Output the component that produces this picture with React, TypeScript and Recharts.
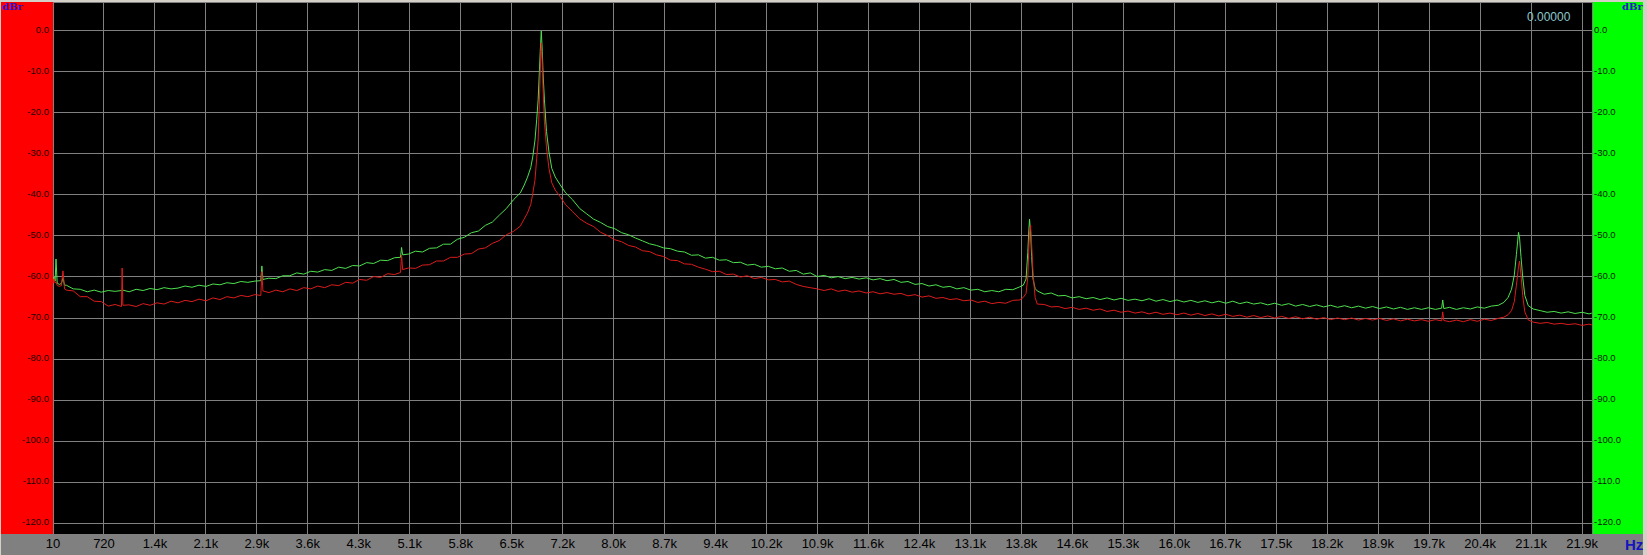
import React from "react";
import { LineChart, Line, XAxis, YAxis, CartesianGrid } from "recharts";

// Frequency bins (Hz)
const freqHz = [
  10, 25, 40, 53, 70, 100, 130, 153, 175, 200,
  300, 400, 500, 600, 700, 800, 900, 990, 1000, 1010,
  1100, 1200, 1300, 1400, 1500, 1600, 1700, 1800, 1900, 2000,
  2100, 2200, 2300, 2400, 2500, 2600, 2700, 2800, 2900, 2985,
  3000, 3015, 3100, 3200, 3300, 3400, 3500, 3600, 3700, 3800,
  3900, 4000, 4100, 4200, 4300, 4400, 4500, 4600, 4700, 4800,
  4900, 4985, 5000, 5015, 5100, 5200, 5300, 5400, 5500, 5600,
  5700, 5800, 5900, 6000, 6100, 6200, 6300, 6400, 6500, 6600,
  6700, 6750, 6800, 6850, 6880, 6910, 6935, 6955, 6972, 6985,
  7000, 7015, 7025, 7045, 7075, 7110, 7150, 7200, 7270, 7350,
  7450, 7550, 7650, 7750, 7850, 7950, 8050, 8150, 8250, 8350,
  8450, 8550, 8650, 8750, 8850, 8950, 9050, 9150, 9250, 9350,
  9450, 9550, 9650, 9750, 9850, 9950, 10050, 10150, 10250, 10350,
  10450, 10550, 10650, 10750, 10850, 10950, 11050, 11150, 11250, 11350,
  11450, 11550, 11650, 11750, 11850, 11950, 12050, 12150, 12250, 12350,
  12450, 12550, 12650, 12750, 12850, 12950, 13050, 13150, 13250, 13350,
  13450, 13550, 13650, 13750, 13850, 13900, 13940, 13965, 13980, 13990,
  14005, 14020, 14040, 14070, 14100, 14200, 14300, 14400, 14500, 14600,
  14700, 14800, 14900, 15000, 15100, 15200, 15300, 15400, 15500, 15600,
  15700, 15800, 15900, 16000, 16100, 16200, 16300, 16400, 16500, 16600,
  16700, 16800, 16900, 17000, 17100, 17200, 17300, 17400, 17500, 17600,
  17700, 17800, 17900, 18000, 18100, 18200, 18300, 18400, 18500, 18600,
  18700, 18800, 18900, 19000, 19100, 19200, 19300, 19400, 19500, 19600,
  19700, 19800, 19890, 19905, 19920, 20000, 20100, 20200, 20300, 20400,
  20500, 20600, 20700, 20780, 20840, 20890, 20930, 20960, 20990, 21005,
  21025, 21050, 21080, 21130, 21200, 21300, 21400, 21500, 21600, 21700,
  21800, 21900, 22000, 22040,
];

// Right channel (green trace), dBr
const greenDb = [
  -60.7, -60.0, -61.0, -55.6, -61.5, -61.8, -61.6, -60.2, -62.0, -62.0,
  -62.9, -63.0, -63.6, -63.2, -63.7, -63.3, -63.5, -63.3, -63.4, -63.2,
  -63.6, -63.0, -63.3, -62.8, -63.1, -62.6, -62.9, -62.7, -62.2, -62.5,
  -62.0, -62.3, -61.7, -61.9, -61.4, -61.6, -61.1, -61.3, -61.0, -60.9,
  -57.3, -60.6, -60.3, -60.4, -59.7, -59.7, -59.0, -59.3, -58.6, -58.8,
  -58.2, -58.4, -57.6, -57.9, -57.2, -57.3, -56.5, -56.7, -55.9, -56.0,
  -55.3, -55.2, -52.8, -54.6, -54.4, -53.7, -53.9, -53.0, -52.9, -52.0,
  -52.0, -50.8, -50.3, -49.2, -48.8, -47.4, -46.6, -44.9, -43.3, -41.2,
  -39.5, -37.8, -35.8, -33.3, -30.5, -26.6, -21.5, -16.8, -10.2, -5.0,
  0.0, -5.0, -10.2, -16.8, -24.5, -29.5, -33.5, -35.6, -37.5, -39.5,
  -41.2, -43.3, -44.6, -45.9, -46.7, -47.7, -48.2, -49.2, -49.7, -50.5,
  -51.2, -51.9, -52.3, -52.9, -53.1, -53.7, -53.9, -54.7, -54.6, -55.4,
  -55.2, -55.9, -55.8, -56.5, -56.4, -57.1, -56.9, -57.6, -57.4, -58.0,
  -57.8, -58.6, -58.4, -59.3, -59.0, -59.9, -59.6, -60.2, -59.9, -60.4,
  -60.1, -60.5, -60.2, -60.7, -60.4, -60.9, -60.6, -61.3, -61.1, -61.8,
  -61.6, -62.2, -61.9, -62.5, -62.3, -62.9, -62.6, -63.2, -63.0, -63.6,
  -63.3, -63.6, -63.0, -63.1, -62.4, -62.0, -60.5, -54.0, -48.5, -45.9,
  -49.0, -55.0, -60.5, -62.8, -63.4, -64.2, -63.9, -64.6, -64.5, -65.1,
  -64.8, -65.3, -65.0, -65.5, -65.1, -65.6, -65.2, -65.7, -65.4, -65.8,
  -65.3, -65.9, -65.5, -66.0, -65.6, -66.1, -65.7, -66.2, -65.8, -66.3,
  -65.9, -66.4, -65.9, -66.5, -66.1, -66.6, -66.3, -66.8, -66.4, -66.9,
  -66.5, -67.1, -66.7, -67.2, -66.8, -67.3, -66.9, -67.4, -67.0, -67.5,
  -67.1, -67.6, -67.2, -67.7, -67.3, -67.8, -67.4, -67.9, -67.5, -67.9,
  -67.5, -67.9, -67.6, -65.6, -67.7, -67.4, -67.9, -67.5, -67.8, -67.3,
  -67.6, -67.1, -66.9, -66.2, -65.0, -63.0, -59.5, -54.5, -49.1, -50.5,
  -55.0, -60.0, -64.5, -67.0, -67.8, -68.2, -68.6, -68.4, -68.8, -68.5,
  -68.9, -68.6, -69.0, -68.8,
];

// Left channel (red trace), dBr
const redDb = [
  -61.6, -60.4, -61.5, -61.2, -62.0, -62.3, -62.1, -58.5, -62.9, -63.2,
  -63.4, -64.8, -64.8, -65.9, -66.0, -67.1, -66.7, -67.2, -57.8, -66.9,
  -66.8, -67.2, -66.5, -66.9, -66.3, -66.6, -65.9, -66.3, -65.7, -66.0,
  -65.4, -65.8, -65.1, -65.5, -64.8, -65.1, -64.5, -64.8, -64.3, -64.5,
  -58.7, -63.4, -63.8, -63.2, -63.6, -62.9, -63.3, -62.6, -62.9, -62.2,
  -62.6, -61.9, -62.1, -61.3, -61.5, -60.6, -60.8, -59.9, -60.1, -59.2,
  -59.4, -58.9, -54.6, -58.2, -57.8, -57.9, -57.1, -57.0, -56.1, -56.1,
  -55.2, -55.2, -54.4, -54.3, -53.2, -52.9, -51.8, -51.1, -49.7, -48.9,
  -47.6, -46.0, -44.5, -42.3, -39.5, -36.3, -31.0, -26.6, -18.0, -10.0,
  -2.9, -8.0, -14.0, -22.0, -28.5, -33.5, -37.0, -38.8, -40.4, -42.4,
  -44.1, -45.8, -46.9, -47.7, -49.1, -49.9, -50.9, -51.4, -52.3, -52.7,
  -53.6, -53.8, -54.6, -55.0, -55.9, -56.0, -56.8, -56.9, -57.6, -58.1,
  -58.7, -58.6, -59.4, -59.3, -60.0, -59.7, -60.4, -60.1, -60.7, -60.6,
  -61.2, -61.0, -61.8, -62.3, -62.6, -62.9, -63.3, -62.9, -63.5, -63.2,
  -63.7, -63.4, -63.9, -63.6, -64.1, -63.8, -64.2, -64.0, -64.6, -64.3,
  -64.9, -64.6, -65.2, -65.0, -65.5, -65.3, -65.8, -65.6, -66.2, -65.9,
  -66.5, -66.2, -66.4, -65.7, -65.6, -65.0, -64.0, -60.0, -53.0, -49.0,
  -47.3, -52.0, -59.0, -65.0, -66.6, -66.7, -67.3, -67.2, -67.7, -67.4,
  -67.9, -67.6, -68.1, -67.8, -68.4, -68.1, -68.6, -68.3, -68.8, -68.5,
  -69.0, -68.6, -69.1, -68.8, -69.2, -68.8, -69.3, -68.9, -69.4, -69.0,
  -69.5, -69.1, -69.6, -69.3, -69.8, -69.4, -69.9, -69.5, -70.0, -69.6,
  -70.1, -69.7, -70.2, -69.8, -70.3, -69.9, -70.4, -70.0, -70.4, -70.0,
  -70.5, -70.1, -70.5, -70.1, -70.6, -70.2, -70.7, -70.3, -70.7, -70.4,
  -70.8, -70.4, -70.7, -68.5, -70.6, -70.9, -70.5, -70.9, -70.4, -70.8,
  -70.3, -70.6, -70.1, -69.8, -69.2, -68.2, -66.0, -62.0, -57.5, -56.1,
  -59.5, -64.5, -68.5, -70.5, -71.0, -71.3, -71.1, -71.5, -71.3, -71.6,
  -71.4, -71.8, -71.5, -71.7,
];

// X axis ticks (Hz) and their labels
const xTickValues = [
  10, 740, 1469, 2199, 2929, 3658, 4388, 5118, 5847, 6577, 7307,
  8036, 8766, 9496, 10225, 10955, 11685, 12414, 13144, 13874, 14603,
  15333, 16063, 16792, 17522, 18252, 18981, 19711, 20441, 21170, 21900,
];
const xTickLabels = [
  "10", "720", "1.4k", "2.1k", "2.9k", "3.6k", "4.3k", "5.1k", "5.8k", "6.5k", "7.2k",
  "8.0k", "8.7k", "9.4k", "10.2k", "10.9k", "11.6k", "12.4k", "13.1k", "13.8k", "14.6k",
  "15.3k", "16.0k", "16.7k", "17.5k", "18.2k", "18.9k", "19.7k", "20.4k", "21.1k", "21.9k",
];

// Y axis ticks (dBr) and labels
const yTickValues = [0, -10, -20, -30, -40, -50, -60, -70, -80, -90, -100, -110, -120];
const yTickLabels = [
  "0.0", "-10.0", "-20.0", "-30.0", "-40.0", "-50.0", "-60.0",
  "-70.0", "-80.0", "-90.0", "-100.0", "-110.0", "-120.0",
];

const readout = "0.00000";

const chartData = freqHz.map((f, i) => ({ f, green: greenDb[i], red: redDb[i] }));

const W = 1647;
const H = 555;
const FONT = '"Liberation Sans", Arial, sans-serif';

const yLabel = (v: number) => {
  const i = yTickValues.indexOf(v);
  return i >= 0 ? yTickLabels[i] : String(v);
};

const LeftTick = (p: any) => (
  <text x={p.x} y={p.y + 2} textAnchor="end" fontSize={9.5} fontFamily={FONT} fill="#1a0000">
    {yLabel(p.payload.value)}
  </text>
);
const RightTick = (p: any) => (
  <text x={p.x} y={p.y + 2} textAnchor="start" fontSize={9.5} fontFamily={FONT} fill="#001a00">
    {yLabel(p.payload.value)}
  </text>
);
const BottomTick = (p: any) => {
  const i = xTickValues.indexOf(p.payload.value);
  return (
    <text x={p.x} y={p.y + 14} textAnchor="middle" fontSize={13} fontFamily={FONT} fill="#000">
      {i >= 0 ? xTickLabels[i] : ""}
    </text>
  );
};

export default function App() {
  return (
    <div
      style={{
        position: "absolute",
        left: 0,
        top: 0,
        width: W,
        height: H,
        background: "#d4d0c8",
        overflow: "hidden",
        fontFamily: FONT,
      }}
    >
      <div style={{ position: "absolute", left: 1, top: 2, width: 52, height: 532, background: "#ff0000" }} />
      <div style={{ position: "absolute", left: 53, top: 2, width: 1539, height: 532, background: "#000000" }} />
      <div style={{ position: "absolute", left: 1592, top: 2, width: 51, height: 532, background: "#00ff00" }} />
      <div style={{ position: "absolute", left: 1, top: 534, width: 1642, height: 21, background: "#808080" }} />
      <div style={{ position: "absolute", left: 0, top: 0 }}>
        <LineChart width={W} height={H} data={chartData} margin={{ top: 2, right: 4, bottom: 0, left: 1 }}>
          <CartesianGrid stroke="#808080" strokeWidth={1} shapeRendering="crispEdges" />
          <XAxis
            dataKey="f"
            type="number"
            domain={[10, 22042]}
            ticks={xTickValues}
            interval={0}
            height={21}
            tickSize={0}
            tickMargin={0}
            tickLine={false}
            axisLine={false}
            allowDataOverflow
            tick={BottomTick}
          />
          <YAxis
            type="number"
            domain={[-122.68, 7.07]}
            ticks={yTickValues}
            interval={0}
            width={52}
            tickSize={0}
            tickMargin={4}
            tickLine={false}
            axisLine={false}
            allowDataOverflow
            tick={LeftTick}
          />
          <YAxis
            yAxisId="r"
            orientation="right"
            type="number"
            domain={[-122.68, 7.07]}
            ticks={yTickValues}
            interval={0}
            width={51}
            tickSize={0}
            tickMargin={2}
            tickLine={false}
            axisLine={false}
            allowDataOverflow
            tick={RightTick}
          />
          <Line type="linear" dataKey="green" stroke="#4ee04e" strokeWidth={1} dot={false} isAnimationActive={false} />
          <Line type="linear" dataKey="red" stroke="#dc1c1c" strokeWidth={1} dot={false} isAnimationActive={false} />
        </LineChart>
      </div>
      <div style={{ position: "absolute", left: 2, top: 1, fontSize: 10, fontWeight: "bold", color: "#2a14c8", fontFamily: '"DejaVu Serif", serif', lineHeight: "12px" }}>dBr</div>
      <div style={{ position: "absolute", left: 1622, top: 1, fontSize: 10, fontWeight: "bold", color: "#2a14c8", fontFamily: '"DejaVu Serif", serif', lineHeight: "12px" }}>dBr</div>
      <div style={{ position: "absolute", left: 1625, top: 536, fontSize: 15, fontWeight: "bold", color: "#1414c0", fontFamily: FONT, lineHeight: "17px" }}>Hz</div>
      <div style={{ position: "absolute", left: 1527, top: 10, fontSize: 12, color: "#8cc8cc", fontFamily: FONT, lineHeight: "14px" }}>{readout}</div>
    </div>
  );
}
